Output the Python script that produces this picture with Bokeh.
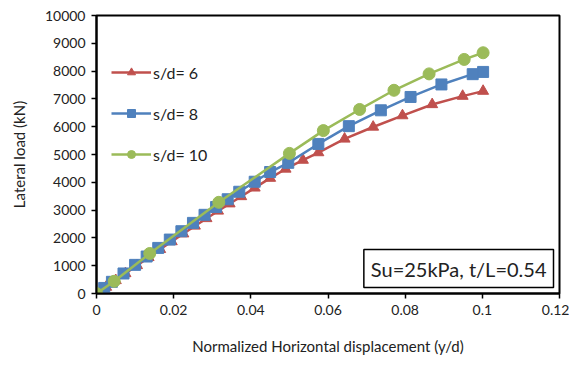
from bokeh.plotting import figure
from bokeh.models import FixedTicker, Legend, LegendItem, Label
from bokeh.embed import file_html
from bokeh.resources import INLINE

# s/d = 6 (red triangles)
x6 = [0, 0.0025, 0.005, 0.0075, 0.0105, 0.0135, 0.0165, 0.0195, 0.0225, 0.0255, 0.0285,
      0.0315, 0.0345, 0.0375, 0.041, 0.045, 0.049, 0.0535, 0.0575, 0.0643, 0.0717,
      0.0793, 0.0870, 0.0949, 0.1002]
y6 = [0, 230, 470, 720, 1010, 1300, 1590, 1870, 2150, 2430, 2700,
      2970, 3230, 3490, 3800, 4150, 4480, 4800, 5070, 5560, 5990,
      6400, 6800, 7100, 7280]

# s/d = 8 (blue squares)
x8 = [0, 0.002, 0.004, 0.007, 0.010, 0.013, 0.016, 0.019, 0.022, 0.025, 0.028, 0.031,
      0.034, 0.037, 0.041, 0.045, 0.0497, 0.0575, 0.0654, 0.0737, 0.0814, 0.0894,
      0.0975, 0.1002]
y8 = [0, 200, 420, 720, 1030, 1330, 1640, 1940, 2240, 2540, 2830, 3110,
      3390, 3660, 4020, 4370, 4700, 5380, 6020, 6590, 7070, 7520,
      7890, 7970]

# s/d = 10 (green circles)
x10 = [0, 0.0046, 0.0138, 0.0317, 0.0500, 0.0588, 0.0682, 0.0771, 0.0862, 0.0953, 0.1002]
y10 = [0, 440, 1440, 3280, 5040, 5860, 6620, 7310, 7900, 8420, 8660]

x_ticks = [0, 0.02, 0.04, 0.06, 0.08, 0.1, 0.12]
x_tick_labels = ["0", "0.02", "0.04", "0.06", "0.08", "0.1", "0.12"]
y_ticks = [0, 1000, 2000, 3000, 4000, 5000, 6000, 7000, 8000, 9000, 10000]

RED = "#C0504D"
BLUE = "#4F81BD"
GREEN = "#9BBB59"
FONT = "Lato"

p = figure(width=569, height=361, x_range=(0, 0.12), y_range=(0, 10000),
           output_backend="svg", toolbar_location=None,
           min_border_left=96, min_border_top=15, min_border_right=10, min_border_bottom=68)
p.grid.visible = False
p.outline_line_color = "black"
p.outline_line_width = 2
p.background_fill_color = "white"
p.border_fill_color = "white"

r6l = p.line(x6, y6, color=RED, line_width=2.5)
r6m = p.scatter(x6, y6, marker="triangle", size=11, color=RED)
r8l = p.line(x8, y8, color=BLUE, line_width=2.5)
r8m = p.scatter(x8, y8, marker="square", size=11, color=BLUE)
r10l = p.line(x10, y10, color=GREEN, line_width=2.5)
r10m = p.scatter(x10, y10, marker="circle", size=12, color=GREEN)

legend = Legend(items=[
    LegendItem(label="s/d= 6", renderers=[r6l, r6m]),
    LegendItem(label="s/d= 8", renderers=[r8l, r8m]),
    LegendItem(label="s/d= 10", renderers=[r10l, r10m]),
], location=(15, 129))
legend.margin = 0
legend.padding = 10
legend.border_line_color = None
legend.background_fill_alpha = 0
legend.label_text_font = FONT
legend.label_text_font_size = "16px"
legend.label_text_color = "#222222"
legend.glyph_width = 40
legend.glyph_height = 20
legend.label_height = 20
legend.spacing = 21
legend.label_standoff = 2
p.add_layout(legend, "center")

for ax in (p.xaxis[0], p.yaxis[0]):
    ax.axis_line_color = "black"
    ax.axis_line_width = 2
    ax.major_tick_line_color = "black"
    ax.major_tick_line_width = 1.5
    ax.major_tick_out = 5
    ax.major_tick_in = 0
    ax.minor_tick_line_color = None
    ax.major_label_text_font = FONT
    ax.major_label_text_font_size = "14px"
    ax.major_label_text_color = "#222222"
    ax.axis_label_text_font = FONT
    ax.axis_label_text_font_size = "15px"
    ax.axis_label_text_font_style = "normal"
    ax.axis_label_text_color = "#222222"

p.xaxis.ticker = FixedTicker(ticks=x_ticks)
p.xaxis.major_label_overrides = {t: l for t, l in zip(x_ticks, x_tick_labels)}
p.yaxis.ticker = FixedTicker(ticks=y_ticks)
p.xaxis.axis_label = "Normalized Horizontal displacement (y/d)"
p.yaxis.axis_label = "Lateral load (kN)"
p.xaxis.major_label_standoff = 6
p.xaxis.axis_label_standoff = 19
p.yaxis.major_label_standoff = 6
p.yaxis.axis_label_standoff = 14

note = Label(x=0.12, y=0, x_units="data", y_units="data",
             text="Su=25kPa, t/L=0.54", text_align="right", text_baseline="bottom",
             text_font=FONT, text_font_size="20px", text_color="#222222",
             border_line_color="black", border_line_width=1.5,
             background_fill_color="white", padding=7, x_offset=-6, y_offset=6)
p.add_layout(note)

open("out.html", "w").write(file_html(p, INLINE))
